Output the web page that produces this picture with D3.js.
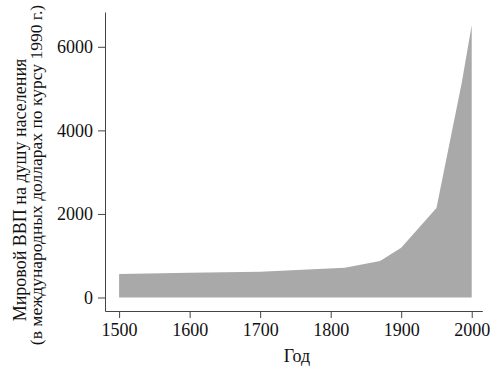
<!DOCTYPE html>
<html><head><meta charset="utf-8">
<script src="https://cdn.jsdelivr.net/npm/d3@7/dist/d3.min.js"></script>
<style>body{margin:0;background:#fff}svg{display:block}
text{font-family:"Liberation Serif","DejaVu Serif",serif !important;}</style>
</head><body>
<svg id="c" width="493" height="380"></svg>
<script>
const years = [1500, 1600, 1700, 1820, 1870, 1900, 1950, 1986, 2000];
const gdp   = [565, 590, 615, 710, 875, 1190, 2140, 5150, 6520];
const xTicks = [1500, 1600, 1700, 1800, 1900, 2000];
const yTicks = [0, 2000, 4000, 6000];
const xTitle = "Год";
const yTitle1 = "Мировой ВВП на душу населения";
const yTitle2 = "(в международных долларах по курсу 1990 г.)";

const data = years.map((y,i)=>({year:y, v:gdp[i]}));
const svg = d3.select("#c");
const font = "Liberation Serif";
const axisColor = "#444";

const x = d3.scaleLinear().domain([1480, 2015]).range([105, 482.3]);
const y = d3.scaleLinear().domain([-323, 6833]).range([311, 12]);

svg.append("path").datum(data)
  .attr("fill", "#a9a9a9")
  .attr("d", d3.area().x(d=>x(d.year)).y0(y(0)).y1(d=>y(d.v)));

const gx = svg.append("g").attr("transform","translate(0,311)")
  .call(d3.axisBottom(x).tickValues(xTicks).tickFormat(d3.format("d")).tickSize(7).tickSizeOuter(0).tickPadding(5));
const gy = svg.append("g").attr("transform","translate(105,0)")
  .call(d3.axisLeft(y).tickValues(yTicks).tickFormat(d3.format("d")).tickSize(7).tickSizeOuter(0).tickPadding(5));
[gx, gy].forEach(g=>{
  g.attr("font-family", font).attr("font-size", 18);
  g.selectAll("path,line").attr("stroke", axisColor).attr("stroke-width",1);
  g.selectAll("text").attr("fill","#111");
});

svg.append("text").attr("x", 297).attr("y", 362).attr("text-anchor","middle")
  .attr("font-family",font).attr("font-size",18).attr("fill","#111").text(xTitle);
svg.append("text").attr("transform","translate(26,190) rotate(-90)").attr("text-anchor","middle")
  .attr("font-family",font).attr("font-size",18).attr("fill","#111").text(yTitle1);
svg.append("text").attr("transform","translate(42,175) rotate(-90)").attr("text-anchor","middle")
  .attr("font-family",font).attr("font-size",17.5).attr("fill","#111").text(yTitle2);
</script>
</body></html>
